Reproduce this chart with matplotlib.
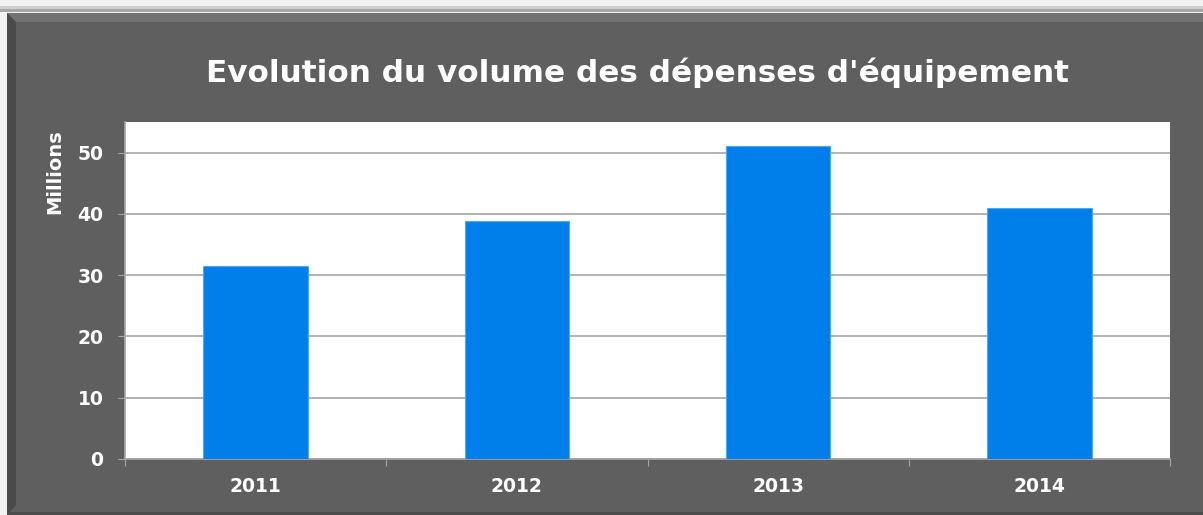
import matplotlib.pyplot as plt
from matplotlib.patches import Rectangle, Polygon

years = ['2011', '2012', '2013', '2014']
values = [31.5, 38.9, 51.1, 41.0]
yticks = [0, 10, 20, 30, 40, 50]

W, H = 1203, 515
fig = plt.figure(figsize=(W / 100, H / 100), dpi=100)
fig.patch.set_facecolor('#f2f2f2')


def px(x, y):
    # pixel coords (top-left origin) -> figure fraction
    return x / W, 1 - y / H


# top shadow strip
fig.patches.append(Rectangle(px(0, 12), 1, 6 / H, transform=fig.transFigure,
                             facecolor='#a8a8a8', edgecolor='none', zorder=-5))
fig.patches.append(Rectangle(px(0, 9), 1, 3 / H, transform=fig.transFigure,
                             facecolor='#cfcfcf', edgecolor='none', zorder=-5))

# dark frame
fig.patches.append(Rectangle(px(7, 515), 1, (515 - 13) / H, transform=fig.transFigure,
                             facecolor='#5f5f5f', edgecolor='none', zorder=-5))
# bevel: top lighter, left darker
fig.patches.append(Polygon([px(7, 13), px(1203, 13), px(1203, 22), px(16, 22)],
                           closed=True, transform=fig.transFigure,
                           facecolor='#737373', edgecolor='none', zorder=-5))
fig.patches.append(Polygon([px(7, 13), px(16, 22), px(16, 505), px(7, 515)],
                           closed=True, transform=fig.transFigure,
                           facecolor='#4a4a4a', edgecolor='none', zorder=-5))
fig.patches.append(Rectangle(px(7, 515), 1, 3 / H, transform=fig.transFigure,
                             facecolor='#4c4c4c', edgecolor='none', zorder=-5))

l, t = px(125, 122)
r, b = px(1170, 459)
ax = fig.add_axes([l, b, r - l, t - b])
ax.set_zorder(5)
ax.set_facecolor('white')

x = range(len(years))
ax.bar(x, values, width=0.4, color='#007fea', edgecolor='#4aa8f5', linewidth=0.8, zorder=3)

ax.set_xlim(-0.5, len(years) - 0.5)
ax.set_ylim(0, 55)
ax.set_yticks(yticks)
ax.set_yticklabels([str(v) for v in yticks], color='white', fontsize=13.5, fontweight='bold')
ax.yaxis.grid(True, color='#a6a6a6', linewidth=1.2, zorder=1)
ax.set_axisbelow(True)

ax.set_xticks([i - 0.5 for i in range(len(years) + 1)], minor=False)
ax.set_xticklabels([])
ax.set_xticks(list(x), minor=True)
ax.set_xticklabels(years, minor=True, color='white', fontsize=13.5, fontweight='bold')
ax.tick_params(axis='x', which='minor', length=0, pad=13)
ax.tick_params(axis='x', which='major', length=5, color='#a6a6a6', direction='out')
ax.tick_params(axis='y', length=5, color='#a6a6a6', pad=10.5)

for s in ['top', 'right']:
    ax.spines[s].set_visible(False)
for s in ['left', 'bottom']:
    ax.spines[s].set_color('#a6a6a6')
    ax.spines[s].set_linewidth(1.2)

ax.set_ylabel('Millions', color='white', fontsize=14, fontweight='bold')
ax.yaxis.set_label_coords(-0.058, 0.853)

fig.text(*px(637, 73), "Evolution du volume des dépenses d'équipement",
         color='white', fontsize=22.4, fontweight='bold', ha='center', va='center')

fig.savefig('out.png', dpi=100, facecolor=fig.get_facecolor())
